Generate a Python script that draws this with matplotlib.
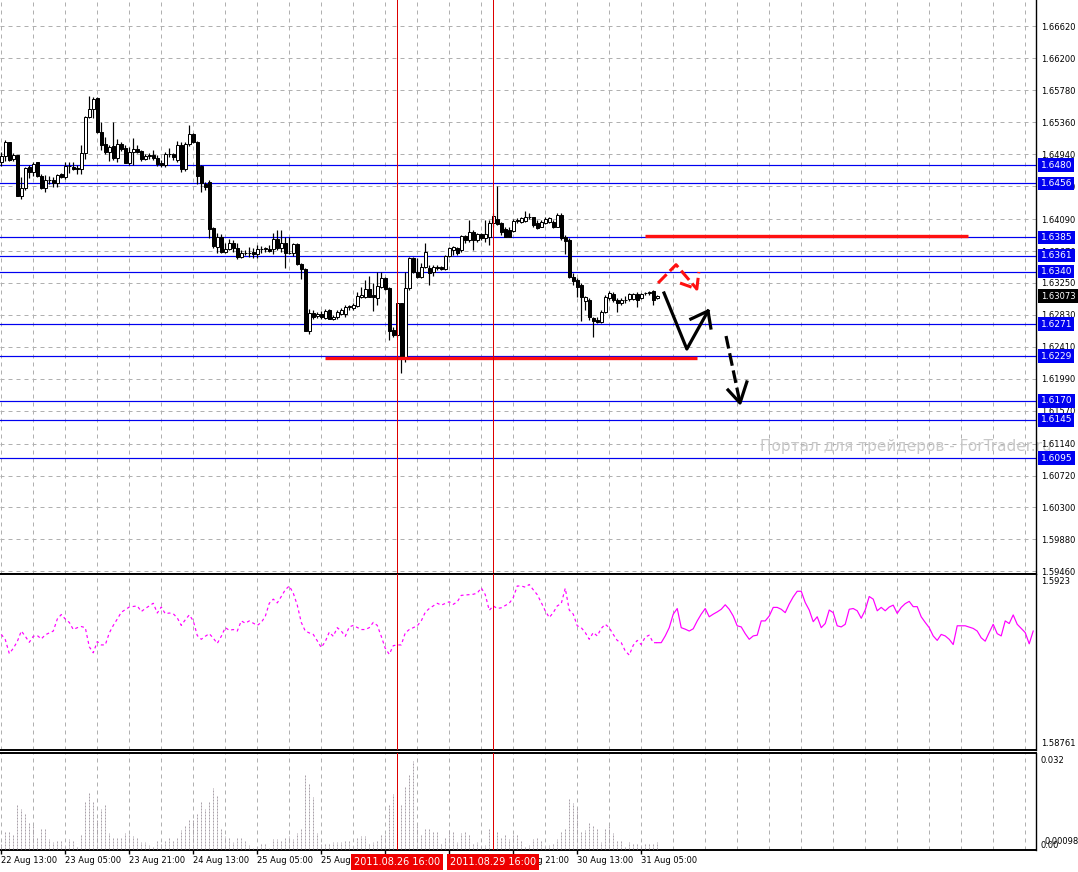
import numpy as np
import matplotlib
matplotlib.use("Agg")
import matplotlib.pyplot as plt
import matplotlib.transforms as mtransforms

# ---- hourly candles, 22 Aug 13:00 .. 31 Aug 08:00 ----
opens = [1.64844, 1.64918, 1.65098, 1.64879, 1.64931, 1.64397, 1.64493, 1.64769, 1.64704, 1.64844,
         1.6466, 1.64493, 1.64603, 1.64603, 1.64568, 1.64682, 1.64647, 1.64787, 1.64769, 1.64765,
         1.64743, 1.64953, 1.65426, 1.65532, 1.65676, 1.65229, 1.65072, 1.64975, 1.6505, 1.64896,
         1.65072, 1.65028, 1.64831, 1.64967, 1.65006, 1.64984, 1.64879, 1.64923, 1.64931, 1.64888,
         1.64831, 1.648, 1.6494, 1.64945, 1.64866, 1.65063, 1.64743, 1.65076, 1.65207, 1.65107,
         1.64787, 1.6455, 1.64581, 1.63968, 1.63727, 1.6385, 1.63661, 1.63692, 1.63771, 1.63705,
         1.63596, 1.63648, 1.63639, 1.63653, 1.63626, 1.63692, 1.63701, 1.63692, 1.63692, 1.63823,
         1.63705, 1.63771, 1.63648, 1.63639, 1.63758, 1.63495, 1.63429, 1.62623, 1.62851, 1.6282,
         1.62842, 1.62785, 1.62895, 1.62776, 1.62798, 1.62842, 1.62842, 1.62939, 1.62917, 1.62947,
         1.6307, 1.6307, 1.63166, 1.63092, 1.63057, 1.63201, 1.63311, 1.63179, 1.62632, 1.62566,
         1.62982, 1.62282, 1.63179, 1.63574, 1.63398, 1.63333, 1.63464, 1.63442, 1.63398, 1.63464,
         1.63455, 1.63429, 1.63604, 1.63683, 1.63705, 1.63683, 1.63867, 1.63815, 1.63924, 1.63815,
         1.63893, 1.63836, 1.63858, 1.64034, 1.64086, 1.64034, 1.63955, 1.63946, 1.63937, 1.64069,
         1.64055, 1.64069, 1.64112, 1.64112, 1.64034, 1.6399, 1.64042, 1.64055, 1.64055, 1.6399,
         1.64143, 1.63858, 1.63815, 1.63333, 1.63289, 1.63223, 1.63017, 1.63026, 1.62785, 1.62763,
         1.62741, 1.62873, 1.63048, 1.63105, 1.63026, 1.62982, 1.63026, 1.63035, 1.63035, 1.63105,
         1.63048, 1.63114, 1.63114, 1.63149, 1.63048]
highs = [1.64975, 1.65129, 1.65107, 1.64953, 1.64936, 1.64647, 1.64769, 1.648, 1.64844, 1.64844,
         1.64682, 1.64669, 1.64656, 1.64647, 1.64682, 1.64699, 1.64844, 1.64844, 1.64844, 1.648,
         1.65063, 1.65448, 1.65707, 1.65698, 1.65698, 1.65369, 1.65164, 1.65063, 1.65361, 1.65137,
         1.65107, 1.65063, 1.65041, 1.6515, 1.65063, 1.64997, 1.64945, 1.64953, 1.64997, 1.64931,
         1.64866, 1.64975, 1.65019, 1.64962, 1.6512, 1.65107, 1.65107, 1.65326, 1.65225, 1.6512,
         1.648, 1.64581, 1.64603, 1.6399, 1.63902, 1.63893, 1.63771, 1.63823, 1.63815, 1.63771,
         1.63683, 1.63683, 1.63727, 1.63705, 1.63749, 1.63736, 1.63727, 1.63749, 1.63911, 1.63946,
         1.63946, 1.63858, 1.63858, 1.63771, 1.6378, 1.63508, 1.63442, 1.62903, 1.62895, 1.62873,
         1.62886, 1.62903, 1.62903, 1.62829, 1.62895, 1.62917, 1.6296, 1.6296, 1.62982, 1.63136,
         1.63201, 1.63289, 1.63341, 1.63245, 1.63398, 1.63398, 1.63333, 1.63193, 1.62676, 1.62982,
         1.62982, 1.63398, 1.63587, 1.63596, 1.63574, 1.63508, 1.63771, 1.63486, 1.63486, 1.63486,
         1.63473, 1.63617, 1.63727, 1.63736, 1.63727, 1.6388, 1.6388, 1.64077, 1.63946, 1.63911,
         1.63911, 1.64077, 1.64077, 1.64165, 1.64524, 1.64055, 1.63981, 1.6399, 1.64086, 1.64099,
         1.64112, 1.642, 1.64174, 1.64121, 1.64077, 1.64077, 1.64112, 1.64121, 1.64077, 1.64174,
         1.64165, 1.6388, 1.63836, 1.63377, 1.63311, 1.63245, 1.63079, 1.63048, 1.62807, 1.62807,
         1.62895, 1.63092, 1.63149, 1.63136, 1.63048, 1.63048, 1.63079, 1.63114, 1.63114, 1.63136,
         1.63114, 1.63136, 1.63149, 1.63158, 1.63092]
lows = [1.64787, 1.64857, 1.64853, 1.64853, 1.64397, 1.64349, 1.64472, 1.64634, 1.64656, 1.64638,
        1.64489, 1.6445, 1.6455, 1.64515, 1.64515, 1.64625, 1.64612, 1.64699, 1.64734, 1.64677,
        1.64677, 1.64875, 1.65413, 1.65413, 1.65225, 1.64997, 1.64945, 1.64853, 1.64866, 1.64835,
        1.64988, 1.64831, 1.648, 1.648, 1.64953, 1.64857, 1.64866, 1.64875, 1.64866, 1.64787,
        1.64769, 1.64769, 1.6491, 1.64866, 1.64844, 1.64712, 1.64726, 1.65054, 1.65085, 1.6455,
        1.6445, 1.64472, 1.63836, 1.63705, 1.63648, 1.63639, 1.63639, 1.63683, 1.63661, 1.63561,
        1.63574, 1.63617, 1.63596, 1.63574, 1.63574, 1.63639, 1.63661, 1.63661, 1.63631, 1.63683,
        1.63661, 1.63442, 1.63631, 1.63604, 1.63486, 1.63298, 1.62623, 1.62579, 1.62772, 1.62785,
        1.62772, 1.62772, 1.62772, 1.62763, 1.62772, 1.62829, 1.62807, 1.62895, 1.62895, 1.6293,
        1.63048, 1.63048, 1.6307, 1.62886, 1.6296, 1.63179, 1.63158, 1.62501, 1.62544, 1.62544,
        1.62062, 1.62216, 1.63158, 1.63377, 1.63311, 1.63311, 1.63442, 1.63223, 1.63341, 1.6342,
        1.6342, 1.6342, 1.63596, 1.63617, 1.63617, 1.63661, 1.63771, 1.63793, 1.63683, 1.63793,
        1.63815, 1.63793, 1.63749, 1.6399, 1.64012, 1.6388, 1.63849, 1.63849, 1.63924, 1.64034,
        1.64042, 1.64055, 1.64086, 1.6399, 1.63955, 1.63981, 1.64025, 1.64034, 1.63968, 1.63981,
        1.63815, 1.63631, 1.63311, 1.63223, 1.63061, 1.62754, 1.62895, 1.62763, 1.62536, 1.6272,
        1.6272, 1.62851, 1.63026, 1.63004, 1.62873, 1.6296, 1.62991, 1.63017, 1.63026, 1.62939,
        1.63035, 1.63092, 1.63092, 1.6296, 1.63035]
closes = [1.64918, 1.65107, 1.64866, 1.64931, 1.64397, 1.64502, 1.64756, 1.64704, 1.64813, 1.6466,
          1.64493, 1.64603, 1.64603, 1.64568, 1.64673, 1.64647, 1.64787, 1.64787, 1.64752, 1.64743,
          1.64953, 1.65426, 1.65532, 1.65663, 1.65229, 1.65063, 1.64975, 1.65032, 1.64896, 1.65072,
          1.65006, 1.64831, 1.64967, 1.65006, 1.64975, 1.64875, 1.64923, 1.64923, 1.64888, 1.64813,
          1.648, 1.64945, 1.6494, 1.64901, 1.65063, 1.64743, 1.65076, 1.65207, 1.65107, 1.6466,
          1.64559, 1.64515, 1.63959, 1.6374, 1.6385, 1.63661, 1.63692, 1.63771, 1.63705, 1.63596,
          1.63648, 1.63648, 1.63639, 1.63626, 1.63692, 1.63692, 1.63701, 1.63674, 1.63823, 1.63705,
          1.63771, 1.63648, 1.63648, 1.63758, 1.63495, 1.63429, 1.62623, 1.62851, 1.62807, 1.62842,
          1.62807, 1.62886, 1.62776, 1.62807, 1.62873, 1.62895, 1.62939, 1.62939, 1.6296, 1.63079,
          1.63092, 1.63166, 1.6307, 1.6307, 1.6321, 1.63311, 1.63166, 1.62623, 1.62566, 1.62982,
          1.62282, 1.63179, 1.63574, 1.63398, 1.63333, 1.63464, 1.63661, 1.63377, 1.63464, 1.63442,
          1.63429, 1.63604, 1.63705, 1.63718, 1.63639, 1.63867, 1.63815, 1.63924, 1.63815, 1.63893,
          1.63836, 1.63893, 1.64034, 1.6413, 1.64025, 1.63924, 1.63858, 1.63858, 1.64069, 1.64069,
          1.64099, 1.64112, 1.64112, 1.64012, 1.63968, 1.64055, 1.64086, 1.64099, 1.63981, 1.64143,
          1.63836, 1.63806, 1.63324, 1.6328, 1.63201, 1.63061, 1.63061, 1.62807, 1.62754, 1.62741,
          1.62873, 1.63061, 1.63114, 1.63026, 1.62982, 1.63026, 1.63026, 1.63105, 1.63105, 1.63026,
          1.63105, 1.63114, 1.63136, 1.63026, 1.63073]

volumes = [0.0019, 0.0061, 0.0058, 0.0047, 0.0154, 0.0137, 0.0123, 0.0087, 0.0083, 0.0038,
           0.0070, 0.0070, 0.0033, 0.0023, 0.0027, 0.0027, 0.0013, 0.0033, 0.0030, 0.0010,
           0.0047, 0.0161, 0.0193, 0.0161, 0.0102, 0.0137, 0.0154, 0.0053, 0.0037, 0.0037,
           0.0037, 0.0053, 0.0050, 0.0043, 0.0040, 0.0023, 0.0023, 0.0014, 0.0010, 0.0027,
           0.0019, 0.0030, 0.0037, 0.0030, 0.0037, 0.0063, 0.0080, 0.0097, 0.0103, 0.0121,
           0.0161, 0.0134, 0.0161, 0.0208, 0.0178, 0.0067, 0.0043, 0.0040, 0.0023, 0.0040,
           0.0040, 0.0027, 0.0013, 0.0003, 0.0008, 0.0017, 0.0017, 0.0003, 0.0033, 0.0033,
           0.0030, 0.0037, 0.0043, 0.0033, 0.0053, 0.0073, 0.0250, 0.0221, 0.0176, 0.0053,
           0.0019, 0.0017, 0.0020, 0.0023, 0.0023, 0.0023, 0.0030, 0.0028, 0.0013, 0.0037,
           0.0043, 0.0043, 0.0020, 0.0023, 0.0030, 0.0050, 0.0047, 0.0154, 0.0186, 0.0108,
           0.0150, 0.0210, 0.0253, 0.0299, 0.0083, 0.0050, 0.0070, 0.0073, 0.0060, 0.0060,
           0.0020, 0.0040, 0.0063, 0.0057, 0.0023, 0.0053, 0.0060, 0.0050, 0.0017, 0.0023,
           0.0013, 0.0013, 0.0070, 0.0041, 0.0057, 0.0040, 0.0050, 0.0033, 0.0047, 0.0050,
           0.0030, 0.0010, 0.0013, 0.0033, 0.0037, 0.0030, 0.0013, 0.0013, 0.0020, 0.0033,
           0.0060, 0.0073, 0.0173, 0.0157, 0.0143, 0.0057, 0.0063, 0.0087, 0.0080, 0.0067,
           0.0023, 0.0070, 0.0083, 0.0053, 0.0027, 0.0027, 0.0010, 0.0023, 0.0017, 0.0017,
           0.0013, 0.0020, 0.0020, 0.0020, 0.0023, 0.0002, 0.0002, 0.0002, 0.0002, 0.0002,
           0.0002, 0.0002, 0.0002, 0.0002]

# indicator (bar index, value); drawn dotted up to the last candle, solid after
ind_x = [0, 1, 2, 3, 4, 5, 6, 7, 8, 9, 10, 11, 13, 14, 15, 16, 17, 18, 19, 20,
         21, 22, 23, 24, 25, 26, 27, 28, 29, 30, 31, 32, 34, 35, 36, 38, 39, 40, 41, 42,
         43, 44, 45, 46, 47, 48, 49, 50, 51, 52, 53, 54, 55, 56, 57, 58, 59, 60, 61, 62,
         64, 65, 66, 67, 68, 69, 70, 71, 72, 73, 74, 75, 76, 77, 78, 79, 80, 81, 82, 83,
         84, 85, 86, 87, 88, 90, 91, 92, 93, 94, 95, 96, 97, 98, 99, 100, 101, 102, 103, 104,
         105, 106, 107, 108, 109, 110, 112, 113, 114, 115, 117, 118, 119, 120, 121, 122, 123, 124, 125, 127,
         128, 129, 130, 131, 132, 133, 134, 135, 136, 137, 138, 139, 140, 141, 142, 143, 144, 145, 146, 147,
         148, 149, 150, 151, 152, 153, 154, 155, 156, 157, 158, 159, 160, 161, 162, 163, 164, 165, 166, 167,
         168, 169, 170, 171, 172, 173, 174, 175, 176, 177, 178, 179, 180, 181, 182, 183, 184, 185, 186, 187,
         188, 189, 190, 191, 192, 193, 194, 195, 196, 197, 198, 199, 200, 201, 202, 203, 204, 205, 206, 207,
         208, 209, 210, 211, 212, 213, 214, 215, 216, 217, 218, 219, 220, 221, 222, 223, 224, 225, 226, 227,
         228, 229, 230, 231, 232, 233, 234, 235, 236, 237, 238, 239, 240, 241, 243, 244, 245, 246, 247, 248,
         249, 250, 251, 252, 253, 254, 255, 256, 257, 258]
ind_y = [1.59069, 1.59055, 1.59018, 1.59032, 1.5905, 1.59078, 1.59064, 1.59048, 1.59064, 1.59066,
         1.59057, 1.59068, 1.59078, 1.5911, 1.59122, 1.5911, 1.59101, 1.59082, 1.59087, 1.5909,
         1.59087, 1.59036, 1.5902, 1.5905, 1.59041, 1.59041, 1.59073, 1.59093, 1.5911, 1.59128,
         1.59135, 1.59142, 1.59145, 1.5913, 1.59138, 1.59152, 1.59126, 1.59142, 1.59124, 1.59126,
         1.59124, 1.59113, 1.59093, 1.59108, 1.59121, 1.59105, 1.59066, 1.59056, 1.59064, 1.59071,
         1.59059, 1.59045, 1.59064, 1.59087, 1.5908, 1.59082, 1.59078, 1.59105, 1.59099, 1.59105,
         1.59093, 1.59101, 1.59117, 1.59152, 1.59163, 1.59153, 1.5917, 1.59188, 1.59198, 1.59179,
         1.59147, 1.59101, 1.59078, 1.59073, 1.59069, 1.59052, 1.59034, 1.5905, 1.59075, 1.59064,
         1.59087, 1.59078, 1.59064, 1.59089, 1.59093, 1.59082, 1.59082, 1.59087, 1.59101, 1.59093,
         1.59064, 1.59032, 1.59016, 1.59039, 1.59041, 1.59041, 1.59073, 1.59082, 1.59087, 1.59092,
         1.59105, 1.59128, 1.59138, 1.59145, 1.59152, 1.59147, 1.59156, 1.59149, 1.59156, 1.59173,
         1.59175, 1.59176, 1.59179, 1.59193, 1.59175, 1.59133, 1.59145, 1.59138, 1.5914, 1.59152,
         1.59167, 1.59198, 1.59198, 1.59195, 1.59202, 1.59188, 1.59175, 1.59154, 1.59132, 1.59114,
         1.59127, 1.59145, 1.59151, 1.59192, 1.59134, 1.59123, 1.59092, 1.59087, 1.59074, 1.59056,
         1.59074, 1.59065, 1.59085, 1.59096, 1.59087, 1.59069, 1.59053, 1.59047, 1.59025, 1.59014,
         1.5904, 1.59053, 1.59042, 1.59062, 1.59067, 1.59047, 1.59047, 1.59047, 1.59065, 1.59087,
         1.59123, 1.59138, 1.59087, 1.59083, 1.59078, 1.59084, 1.59105, 1.59123, 1.59138, 1.59116,
         1.59123, 1.59129, 1.59136, 1.59148, 1.59136, 1.59118, 1.59092, 1.59089, 1.59071, 1.59056,
         1.59065, 1.59067, 1.59105, 1.59105, 1.59118, 1.59141, 1.59141, 1.59136, 1.59127, 1.5915,
         1.59169, 1.59184, 1.59184, 1.59154, 1.59134, 1.59103, 1.59116, 1.59087, 1.59098, 1.59134,
         1.59127, 1.59092, 1.59089, 1.59096, 1.59136, 1.59138, 1.59132, 1.59112, 1.59134, 1.5917,
         1.59163, 1.59132, 1.59141, 1.59132, 1.59142, 1.59147, 1.59125, 1.59141, 1.59151, 1.59157,
         1.59143, 1.59143, 1.59116, 1.59101, 1.59087, 1.59065, 1.59053, 1.59069, 1.59065, 1.59056,
         1.59042, 1.59092, 1.59092, 1.59092, 1.59085, 1.59078, 1.5906, 1.59051, 1.59074, 1.59096,
         1.59071, 1.59065, 1.59105, 1.59098, 1.59121, 1.59096, 1.59085, 1.59074, 1.59044, 1.59078]

levels = [1.6480, 1.6456, 1.6385, 1.6361, 1.6340, 1.6271, 1.6229, 1.6170, 1.6145, 1.6095]
price_ticks = [1.66620, 1.66200, 1.65780, 1.65360, 1.64940, 1.64520, 1.64090, 1.63670, 1.63250,
               1.62830, 1.62410, 1.61990, 1.61570, 1.61140, 1.60720, 1.60300, 1.59880, 1.59460]
time_pos = [0, 16, 32, 48, 64, 80, 96, 112, 128, 144, 160]
time_labels = ["22 Aug 13:00", "23 Aug 05:00", "23 Aug 21:00", "24 Aug 13:00", "25 Aug 05:00",
               "25 Aug 21:00", "26 Aug 13:00", "29 Aug 05:00", "29 Aug 21:00", "30 Aug 13:00",
               "31 Aug 05:00"]
marker_bars = [99, 123]
marker_labels = ["2011.08.26 16:00", "2011.08.29 16:00"]
last_price = 1.63073

# red support / resistance segments (start bar, end bar, price)
red_segments = [(160.9, 241.7, 1.63866), (80.9, 173.9, 1.6226)]
# hand-drawn forecast arrows (bar index, price)
red_path_x = [164.2, 168.7, 173.9]
red_path_y = [1.63249, 1.6349, 1.63171]
red_head_x = [169.7, 173.9, 174.4]
red_head_y = [1.63249, 1.63171, 1.63394]
blk_path_x = [165.7, 171.4, 176.7]
blk_path_y = [1.63118, 1.62382, 1.62882]
blk_head_x = [172.4, 176.7, 177.4]
blk_head_y = [1.62776, 1.62882, 1.62658]
dash_path_x = [181.2, 184.7]
dash_path_y = [1.62553, 1.61673]
dash_head_x = [181.7, 184.7, 186.4]
dash_head_y = [1.61844, 1.61673, 1.61949]

W, H = 1078, 872
fig = plt.figure(figsize=(W / 100, H / 100), dpi=100)


def rect(top, bottom, right=1036):
    return [0, 1 - bottom / H, right / W, (bottom - top) / H]


ax1 = fig.add_axes(rect(0, 574))
ax2 = fig.add_axes(rect(574, 750))
ax3 = fig.add_axes(rect(753, 850))

PX = 0.72  # one pixel in points
XMIN, XMAX = -0.325, 258.7
grid_kw = dict(color="#b0b0b0", lw=PX, ls=(0, (4, 4)), zorder=1)
for ax in (ax1, ax2, ax3):
    ax.set_xlim(XMIN, XMAX)
    for gx in range(0, 259, 8):
        ax.axvline(gx, **grid_kw)
    for s in ("left", "top"):
        ax.spines[s].set_visible(False)
    ax.spines["right"].set_linewidth(1.0)
    ax.spines["bottom"].set_linewidth(1.4)
    for mb in marker_bars:
        ax.axvline(mb, color="#dd0000", lw=PX, zorder=6)
ax2.spines["top"].set_visible(True)
ax2.spines["top"].set_linewidth(1.4)
ax3.spines["top"].set_visible(True)
ax3.spines["top"].set_linewidth(1.4)

# ---- price panel ----
ax1.set_ylim(1.59426, 1.66968)
for t in price_ticks:
    ax1.axhline(t, **grid_kw)
ax1.yaxis.tick_right()
ax1.set_yticks(price_ticks)
ax1.set_yticklabels([f"{t:.5f}" for t in price_ticks])
ax1.tick_params(axis="y", length=0, pad=4, labelsize=6)
ax1.set_xticks([])

for lv in levels:
    ax1.axhline(lv, color="#0000f0", lw=PX * 1.2, zorder=2)

o = np.array(opens); h = np.array(highs); l = np.array(lows); c = np.array(closes)
x = np.arange(len(o))
ax1.vlines(x, l, h, color="black", lw=PX * 1.2, zorder=3)
up = c >= o
bottom = np.minimum(o, c)
height = np.maximum(np.abs(c - o), 0.00002)
ax1.bar(x[up], height[up], bottom=bottom[up], width=0.72, color="white",
        edgecolor="black", lw=PX, zorder=4)
ax1.bar(x[~up], height[~up], bottom=bottom[~up], width=0.72, color="black",
        edgecolor="black", lw=PX, zorder=4)

for x0, x1, p in red_segments:
    ax1.hlines(p, x0, x1, color="#ff1010", lw=2.4, zorder=5)

ax1.plot(red_path_x, red_path_y, color="#ff1010", lw=2.2, ls=(0, (4, 1.5)), zorder=7)
ax1.plot(red_head_x, red_head_y, color="#ff1010", lw=2.2, ls=(0, (4, 1.5)), zorder=7)
ax1.plot(blk_path_x, blk_path_y, color="black", lw=2.3, zorder=7)
ax1.plot(blk_head_x, blk_head_y, color="black", lw=2.3, zorder=7)
ax1.plot(dash_path_x, dash_path_y, color="black", lw=2.3, ls=(0, (4, 1.5)), zorder=7)
ax1.plot(dash_head_x, dash_head_y, color="black", lw=2.3, zorder=7)

lab = mtransforms.blended_transform_factory(ax1.transAxes, ax1.transData)
for lv in levels:
    ax1.text(1.0045, lv, f"{lv:.4f}", transform=lab, ha="left", va="center",
             fontsize=6.5, color="white", clip_on=False, zorder=10,
             bbox=dict(boxstyle="square,pad=0.25", fc="#0000f0", ec="none"))
ax1.text(1.0045, last_price, f"{last_price:.5f}", transform=lab, ha="left", va="center",
         fontsize=6, color="white", clip_on=False, zorder=10,
         bbox=dict(boxstyle="square,pad=0.3", fc="black", ec="none"))

ax1.text(760 / W, 1 - 447 / H, "Портал для трейдеров - ForTrader.ru",
         transform=fig.transFigure, fontsize=11, color="#c8c8c8",
         ha="left", va="center", clip_on=False, zorder=1)

# ---- indicator panel ----
ind_x_a = np.array(ind_x); ind_y_a = np.array(ind_y)
past = ind_x_a <= 164
ax2.plot(ind_x_a[past], ind_y_a[past], color="#ff00ff", lw=PX * 1.2, ls=(0, (2.5, 2.5)), zorder=3)
ax2.plot(ind_x_a[ind_x_a >= 164], ind_y_a[ind_x_a >= 164], color="#ff00ff", lw=PX * 1.2, zorder=3)
ax2.set_ylim(1.58761, 1.5923)
ax2.set_xticks([]); ax2.set_yticks([])
ax2.text(1.0045, 0.985, "1.5923", transform=ax2.transAxes, fontsize=6, ha="left", va="top",
         clip_on=False)
ax2.text(1.0045, 0.01, "1.58761", transform=ax2.transAxes, fontsize=6, ha="left",
         va="bottom", clip_on=False)

# ---- volume-like histogram panel ----
xv = np.arange(len(volumes))
ax3.vlines(xv, 0, volumes, color="#aaa2aa", lw=PX, ls=(0, (2, 1)), zorder=3)
ax3.set_ylim(-0.0003, 0.0325)
ax3.set_yticks([])
ax3.text(1.0045, 0.97, "0.032", transform=ax3.transAxes, fontsize=6, ha="left", va="top",
         clip_on=False)
ax3.text(1.0085, 0.04, "0.00098", transform=ax3.transAxes, fontsize=6, ha="left",
         va="bottom", clip_on=False)
ax3.text(1.0045, 0.0, "0.00", transform=ax3.transAxes, fontsize=6, ha="left",
         va="bottom", clip_on=False)

ax3.set_xticks(time_pos)
ax3.set_xticklabels(time_labels)
ax3.tick_params(axis="x", length=3, width=1, pad=1.5, labelsize=6)
for t in ax3.get_xticklabels():
    t.set_ha("left")

tb = mtransforms.blended_transform_factory(ax3.transData, ax3.transAxes)
for mb, ml in zip(marker_bars, marker_labels):
    ax3.text(mb, -0.125, ml, transform=tb, ha="center", va="center", fontsize=7,
             color="white", clip_on=False, zorder=10,
             bbox=dict(boxstyle="square,pad=0.3", fc="#ee0000", ec="none"))

fig.savefig("out.png", dpi=100, facecolor="white")
